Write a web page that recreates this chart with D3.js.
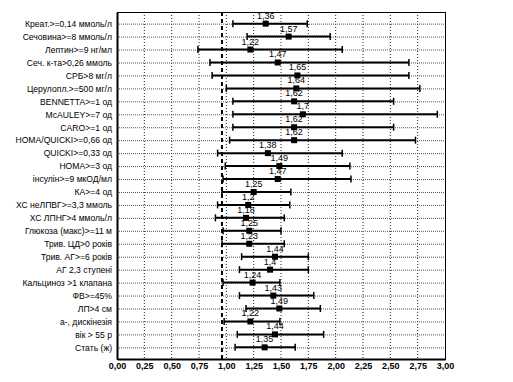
<!DOCTYPE html>
<html>
<head>
<meta charset="utf-8">
<script src="https://cdn.jsdelivr.net/npm/d3@7"></script>
<style>
  body { margin: 0; background: #fff; }
  svg { display: block; font-family: "Liberation Sans", Arial, sans-serif; }
</style>
</head>
<body>
<script>
// rows, top to bottom
const factors = [
  'Креат.>=0,14 ммоль/л', 'Сечовина>=8 ммоль/л', 'Лептин>=9 нг/мл',
  'Сеч. к-та>0,26 ммоль', 'СРБ>8 мг/л', 'Церулопл.>=500 мг/л',
  'BENNETTA>=1 од', 'McAULEY>=7 од', 'CARO>=1 од', 'HOMA/QUICKI>=0,66 од',
  'QUICKI>=0,33 од', 'HOMA>=3 од', 'інсулін>=9 мкОД/мл', 'КА>=4 од',
  'ХС неЛПВГ>=3,3 ммоль', 'ХС ЛПНГ>4 ммоль/л', 'Глюкоза (макс)>=11 м',
  'Трив. ЦД>0 років', 'Трив. АГ>=6 років', 'АГ 2,3 ступені',
  'Кальциноз >1 клапана', 'ФВ>=45%', 'ЛП>4 см', 'а-, дискінезія',
  'вік > 55 р', 'Стать (ж)'
];
const oddsRatio = [1.36, 1.57, 1.22, 1.47, 1.65, 1.64, 1.62, 1.70, 1.62, 1.62,
  1.38, 1.49, 1.47, 1.25, 1.20, 1.18, 1.25, 1.23, 1.44, 1.40,
  1.24, 1.43, 1.49, 1.22, 1.44, 1.35];
// position of the square as drawn (labels above are the printed values)
const pointPos = [1.36, 1.57, 1.22, 1.47, 1.65, 1.64, 1.62, 1.70, 1.62, 1.62,
  1.38, 1.485, 1.47, 1.25, 1.20, 1.18, 1.21, 1.21, 1.445, 1.40,
  1.24, 1.43, 1.485, 1.22, 1.445, 1.35];
const ciLow = [1.06, 1.19, 0.74, 0.85, 0.87, 1.00, 1.06, 1.06, 1.06, 1.03,
  0.92, 0.99, 0.97, 0.96, 0.92, 0.90, 0.97, 0.96, 1.14, 1.12,
  0.97, 1.12, 1.18, 0.98, 1.10, 1.08];
const ciHigh = [1.74, 1.95, 2.06, 2.67, 2.67, 2.77, 2.53, 2.93, 2.53, 2.73,
  2.06, 2.13, 2.14, 1.59, 1.58, 1.53, 1.50, 1.53, 1.75, 1.75,
  1.49, 1.80, 1.86, 1.49, 1.89, 1.63];
const xTicks = [0, 0.25, 0.5, 0.75, 1, 1.25, 1.5, 1.75, 2, 2.25, 2.5, 2.75, 3];
const refLine = 0.96;

const width = 513, height = 382;
const margin = { top: 12, right: 68, bottom: 23, left: 117 };

const svg = d3.select('body').append('svg')
  .attr('width', width)
  .attr('height', height);

const x = d3.scaleLinear().domain([0, 3]).range([margin.left, width - margin.right]);
const y = d3.scalePoint().domain(factors)
  .range([margin.top, height - margin.bottom]).padding(0.9);

const fmt = v => String(+v.toFixed(2)).replace('.', ',');

// vertical grid
svg.append('g')
  .selectAll('line')
  .data(xTicks.slice(1, -1))
  .join('line')
  .attr('x1', d => x(d)).attr('x2', d => x(d))
  .attr('y1', margin.top).attr('y2', height - margin.bottom)
  .attr('stroke', '#222').attr('stroke-width', 1)
  .attr('stroke-dasharray', '1,2');

// horizontal grid per row
svg.append('g')
  .selectAll('line')
  .data(factors)
  .join('line')
  .attr('x1', margin.left).attr('x2', width - margin.right)
  .attr('y1', d => y(d) + 0.5).attr('y2', d => y(d) + 0.5)
  .attr('stroke', '#555').attr('stroke-width', 1)
  .attr('stroke-dasharray', '1,1');

// reference line
svg.append('line')
  .attr('x1', x(refLine)).attr('x2', x(refLine))
  .attr('y1', margin.top).attr('y2', height - margin.bottom)
  .attr('stroke', '#000').attr('stroke-width', 2)
  .attr('stroke-dasharray', '4,3');

// frame
svg.append('rect')
  .attr('x', margin.left + 0.5).attr('y', margin.top + 0.5)
  .attr('width', width - margin.right - margin.left)
  .attr('height', height - margin.bottom - margin.top)
  .attr('fill', 'none').attr('stroke', '#000');

// x axis
const xAxis = svg.append('g')
  .attr('transform', `translate(0,${height - margin.bottom})`)
  .call(d3.axisBottom(x).tickValues(xTicks).tickSize(0).tickPadding(4)
    .tickFormat(d => d.toFixed(2).replace('.', ',')));
xAxis.select('.domain').attr('stroke-width', 2);
xAxis.selectAll('text')
  .attr('font-size', 9).attr('font-weight', 'bold')
  .attr('font-family', '"Liberation Sans", Arial, sans-serif');

// y axis
const yAxis = svg.append('g')
  .attr('transform', `translate(${margin.left},0)`)
  .call(d3.axisLeft(y).tickSize(0).tickPadding(5));
yAxis.select('.domain').attr('stroke-width', 2);
yAxis.selectAll('text')
  .attr('font-size', 8.6)
  .attr('font-family', '"Liberation Sans", Arial, sans-serif')
  .attr('fill', '#000');

// error bars
const rows = factors.map((f, i) => ({
  f, or: oddsRatio[i], p: pointPos[i], lo: ciLow[i], hi: ciHigh[i]
}));

const g = svg.append('g');
g.selectAll('.ci')
  .data(rows)
  .join('line')
  .attr('class', 'ci')
  .attr('x1', d => x(d.lo)).attr('x2', d => x(d.hi))
  .attr('y1', d => y(d.f)).attr('y2', d => y(d.f))
  .attr('stroke', '#000').attr('stroke-width', 2);

['lo', 'hi'].forEach(k => {
  g.selectAll('.cap-' + k)
    .data(rows)
    .join('line')
    .attr('class', 'cap-' + k)
    .attr('x1', d => x(d[k])).attr('x2', d => x(d[k]))
    .attr('y1', d => y(d.f) - 3.5).attr('y2', d => y(d.f) + 3.5)
    .attr('stroke', '#000').attr('stroke-width', 1.5);
});

g.selectAll('.pt')
  .data(rows)
  .join('rect')
  .attr('class', 'pt')
  .attr('x', d => x(d.p) - 3).attr('y', d => y(d.f) - 3)
  .attr('width', 6).attr('height', 6)
  .attr('fill', '#000');

g.selectAll('.lbl')
  .data(rows)
  .join('text')
  .attr('class', 'lbl')
  .attr('x', d => x(d.p)).attr('y', d => y(d.f) - 5)
  .attr('text-anchor', 'middle')
  .attr('font-size', 9)
  .attr('fill', '#000')
  .text(d => fmt(d.or));
</script>
</body>
</html>
